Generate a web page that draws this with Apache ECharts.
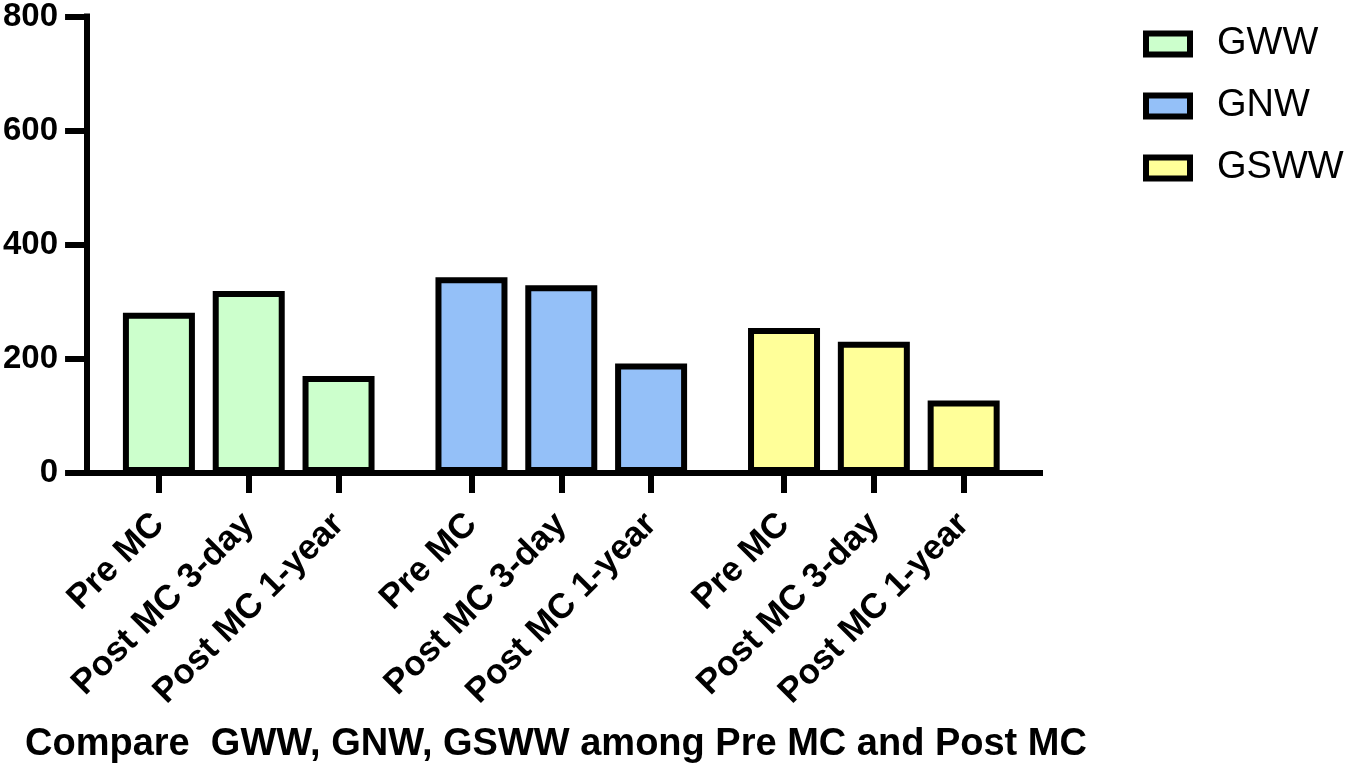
<!doctype html>
<html>
    <head>
        <meta charset="utf-8">
        <title>Compare GWW, GNW, GSWW among Pre MC and Post MC</title>
        <style>
            html, body { margin: 0; padding: 0; background: #fff; }
            #main { width: 1350px; height: 767px; }
        </style>
    </head>
    <body>
        <div id="main"></div>
        <script src="https://cdn.jsdelivr.net/npm/echarts@6/dist/echarts.min.js"></script>
        <script>
            var groups = ['GWW', 'GNW', 'GSWW'];
            var timepoints = ['Pre MC', 'Post MC 3-day', 'Post MC 1-year'];
            var gwwValues = [281, 319, 170];
            var gnwValues = [343, 329, 192];
            var gswwValues = [254, 230, 127];
            var yTicks = [0, 200, 400, 600, 800];
            var fills = ['#ccffcc', '#94c0f8', '#ffff99'];

            var font = '"Liberation Sans", Arial, Helvetica, sans-serif';
            var allValues = [gwwValues, gnwValues, gswwValues];

            // bars sit one unit apart, groups are separated by a wider gap
            var groupStep = 3.48;
            var tickPos = [];
            var tickLabel = {};
            groups.forEach(function (g, gi) {
                timepoints.forEach(function (t, ti) {
                    var x = +(gi * groupStep + ti).toFixed(2);
                    tickPos.push(x);
                    tickLabel[x.toFixed(2)] = t;
                });
            });

            var series = groups.map(function (g, gi) {
                return {
                    name: g,
                    type: 'bar',
                    barWidth: 72,
                    barGap: '-100%',
                    itemStyle: { color: fills[gi], borderColor: '#000', borderWidth: 6 },
                    data: allValues[gi].map(function (v, ti) {
                        return [tickPos[gi * 3 + ti], v];
                    })
                };
            });

            var chart = echarts.init(document.getElementById('main'));
            chart.setOption({
                animation: false,
                title: {
                    text: 'Compare  GWW, GNW, GSWW among Pre MC and Post MC',
                    left: 25,
                    top: 726,
                    padding: 0,
                    textStyle: { fontFamily: font, fontSize: 38, fontWeight: 'bold', color: '#000' }
                },
                legend: {
                    orient: 'vertical',
                    left: 1143,
                    top: 24,
                    padding: 0,
                    icon: 'rect',
                    itemWidth: 44,
                    itemHeight: 21,
                    itemGap: 22,
                    itemStyle: { borderWidth: 6, borderColor: '#000' },
                    textStyle: { fontFamily: font, fontSize: 38, color: '#000', lineHeight: 40, padding: [0, 0, 0, 22] },
                    data: groups
                },
                grid: { left: 85, top: 13, width: 955, height: 460 },
                xAxis: {
                    type: 'value',
                    min: -0.8,
                    max: 9.81,
                    splitLine: { show: false },
                    axisLine: { show: true, onZero: false, lineStyle: { color: '#000', width: 6, cap: 'square' } },
                    axisTick: { show: true, customValues: tickPos, length: 20, lineStyle: { color: '#000', width: 6 } },
                    axisLabel: {
                        customValues: tickPos,
                        rotate: 45,
                        margin: 46,
                        fontFamily: font,
                        fontSize: 35,
                        fontWeight: 'bold',
                        color: '#000',
                        formatter: function (v) { return tickLabel[v.toFixed(2)] || ''; }
                    }
                },
                yAxis: {
                    type: 'value',
                    min: yTicks[0],
                    max: yTicks[yTicks.length - 1],
                    interval: 200,
                    splitLine: { show: false },
                    axisLine: { show: true, onZero: false, lineStyle: { color: '#000', width: 6, cap: 'square' } },
                    axisTick: { show: true, length: 22, lineStyle: { color: '#000', width: 6 } },
                    axisLabel: { margin: 29, fontFamily: font, fontSize: 33, fontWeight: 'bold', color: '#000' }
                },
                series: series
            });

            window.onresize = chart.resize;
        </script>
    </body>
</html>
